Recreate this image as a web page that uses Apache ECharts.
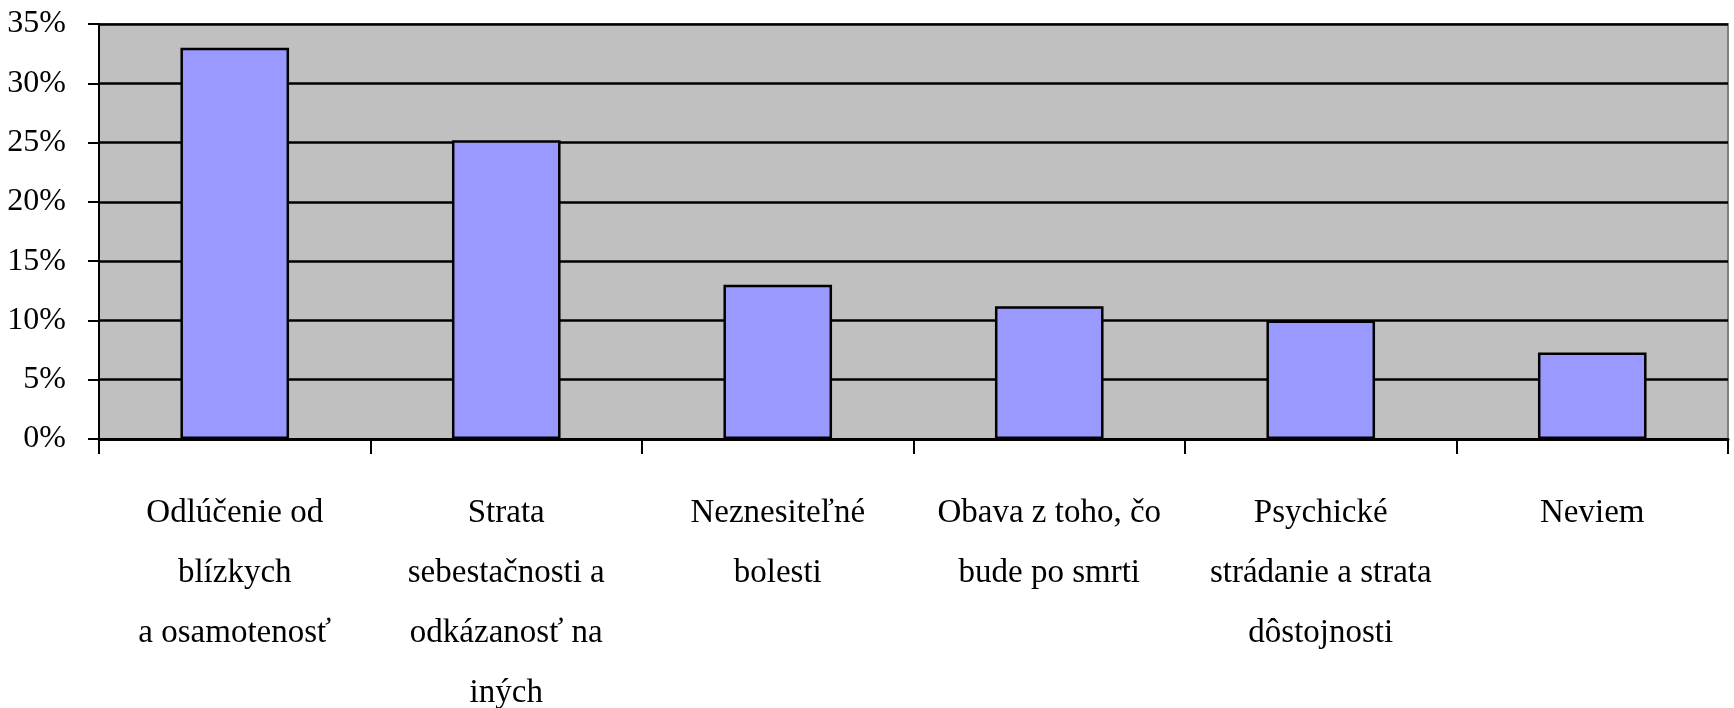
<!DOCTYPE html>
<html>
<head>
<meta charset="utf-8">
<script src="https://cdn.jsdelivr.net/npm/echarts@6/dist/echarts.min.js"></script>
<style>
html,body{margin:0;padding:0;background:#fff;}
#chart{width:1734px;height:708px;}
</style>
</head>
<body>
<div id="chart"></div>
<script>
const categories = [
  "Odlúčenie od\nblízkych\na osamotenosť",
  "Strata\nsebestačnosti a\nodkázanosť na\niných",
  "Neznesiteľné\nbolesti",
  "Obava z toho, čo\nbude po smrti",
  "Psychické\nstrádanie a strata\ndôstojnosti",
  "Neviem"
];
const values = [33, 25.2, 13, 11.2, 10, 7.3];
const yTicks = { min: 0, max: 35, interval: 5 };

const chart = echarts.init(document.getElementById('chart'), null, { renderer: 'canvas' });
chart.setOption({
  animation: false,
  backgroundColor: '#ffffff',
  grid: {
    left: 99, right: 6, top: 24, bottom: 269,
    outerBoundsMode: 'none',
    containLabel: false,
    show: true,
    backgroundColor: '#c0c0c0',
    borderColor: '#808080',
    borderWidth: 2
  },
  xAxis: {
    type: 'category',
    data: categories,
    boundaryGap: true,
    axisLine: { show: true, lineStyle: { color: '#000', width: 3 } },
    axisTick: { show: true, length: 15, lineStyle: { color: '#000', width: 2 } },
    axisLabel: {
      interval: 0,
      margin: 44,
      color: '#000',
      fontFamily: 'Liberation Serif',
      fontSize: 33,
      lineHeight: 60,
      align: 'center'
    }
  },
  yAxis: {
    type: 'value',
    min: yTicks.min,
    max: yTicks.max,
    interval: yTicks.interval,
    axisLine: { show: true, lineStyle: { color: '#000', width: 2 } },
    axisTick: { show: true, length: 11, lineStyle: { color: '#000', width: 2 } },
    splitLine: { show: true, lineStyle: { color: '#000', width: 2.5 } },
    axisLabel: {
      formatter: '{value}%',
      margin: 33,
      color: '#000',
      fontFamily: 'Liberation Serif',
      fontSize: 32
    }
  },
  series: [{
    type: 'bar',
    data: values,
    barWidth: '40%',
    itemStyle: { color: '#9999ff', borderColor: '#000', borderWidth: 2.5 }
  }]
});
</script>
</body>
</html>
